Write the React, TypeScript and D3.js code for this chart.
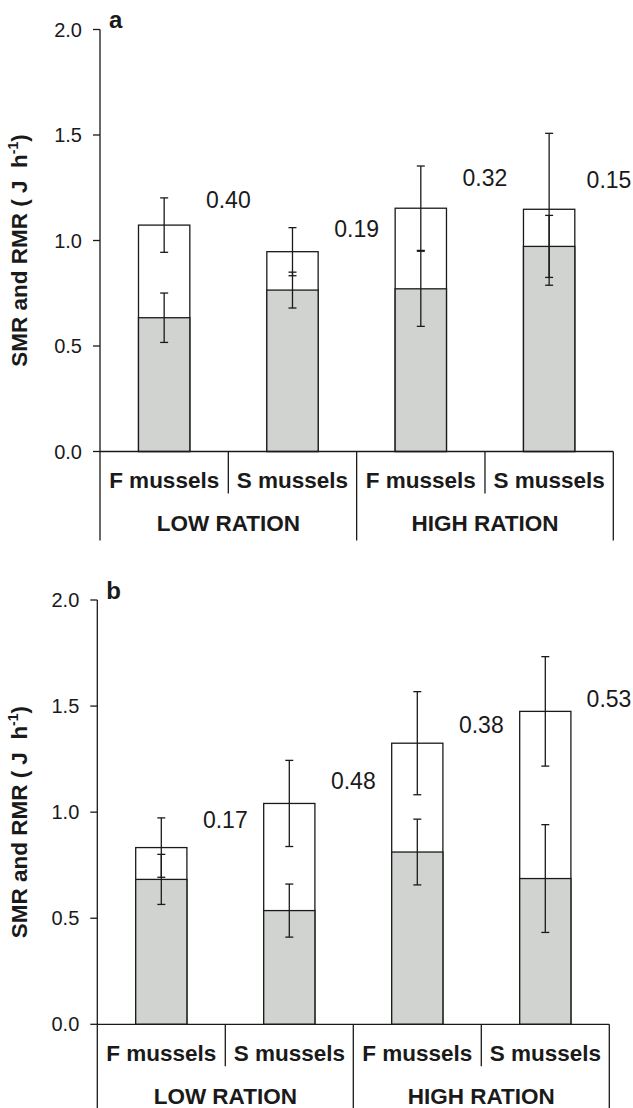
import React from 'react';
import * as d3 from 'd3';

// ---------- data ----------
const groups = ['LOW RATION', 'HIGH RATION'];
const mussels = ['F mussels', 'S mussels'];
const categories = groups.flatMap((g) => mussels.map((m) => `${g}|${m}`));
const yTicks = [0, 0.5, 1.0, 1.5, 2.0];

// panel a
const rmrA = [1.073, 0.947, 1.153, 1.148];
const rmrErrA = [0.129, 0.114, 0.2, 0.36];
const smrA = [0.634, 0.765, 0.771, 0.972];
const smrErrA = [0.117, 0.085, 0.178, 0.147];
const diffLabelsA = ['0.40', '0.19', '0.32', '0.15'];
const diffLabelYA = [1.154, 1.017, 1.258, 1.249];

// panel b
const rmrB = [0.833, 1.041, 1.325, 1.475];
const rmrErrB = [0.14, 0.203, 0.243, 0.258];
const smrB = [0.683, 0.536, 0.812, 0.687];
const smrErrB = [0.118, 0.125, 0.155, 0.254];
const diffLabelsB = ['0.17', '0.48', '0.38', '0.53'];
const diffLabelYB = [0.925, 1.108, 1.372, 1.495];

const FONT = "'Liberation Sans', Arial, Helvetica, sans-serif";
const INK = '#1a1a1a';
const GREY = '#d1d3d1';
const W = 633;

type PanelProps = {
  letter: string;
  rmr: number[];
  rmrErr: number[];
  smr: number[];
  smrErr: number[];
  labels: string[];
  labelY: number[];
  left: number;
  right: number;
  bottom: number;
  top: number;
};

function Panel(p: PanelProps) {
  const x = d3.scaleBand<string>().domain(categories).range([p.left, p.right]).padding(0);
  const y = d3.scaleLinear().domain([0, 2]).range([p.bottom, p.top]);
  const bw = x.bandwidth();
  const barW = bw * 0.4;
  const capW = 8;
  const sw = 1.3;
  const groupW = bw * mussels.length;

  const errBar = (cx: number, m: number, e: number, key: string) => (
    <g key={key} stroke={INK} strokeWidth={sw}>
      <line x1={cx} x2={cx} y1={y(m + e)} y2={y(m - e)} />
      <line x1={cx - capW / 2} x2={cx + capW / 2} y1={y(m + e)} y2={y(m + e)} />
      <line x1={cx - capW / 2} x2={cx + capW / 2} y1={y(m - e)} y2={y(m - e)} />
    </g>
  );

  const titleCy = (p.bottom + p.top) / 2 + 10;

  return (
    <g>
      {/* bars */}
      {categories.map((c, i) => {
        const cx = (x(c) as number) + bw / 2;
        return (
          <g key={c}>
            <rect x={cx - barW / 2} y={y(p.rmr[i])} width={barW} height={y(0) - y(p.rmr[i])}
              fill="#ffffff" stroke={INK} strokeWidth={sw} />
            <rect x={cx - barW / 2} y={y(p.smr[i])} width={barW} height={y(0) - y(p.smr[i])}
              fill={GREY} stroke={INK} strokeWidth={sw} />
            {errBar(cx, p.rmr[i], p.rmrErr[i], 'r')}
            {errBar(cx, p.smr[i], p.smrErr[i], 's')}
          </g>
        );
      })}

      {/* difference labels */}
      {categories.map((c, i) => (
        <text key={'l' + c} x={Math.min((x(c) as number) + bw, W - 24)} y={y(p.labelY[i])} textAnchor="middle"
          fontFamily={FONT} fontSize={23} fill={INK}>
          {p.labels[i]}
        </text>
      ))}

      {/* y axis */}
      <line x1={p.left} x2={p.left} y1={y(2)} y2={p.bottom + 89} stroke={INK} strokeWidth={sw} />
      {yTicks.map((t) => (
        <g key={t}>
          <line x1={p.left - 7} x2={p.left} y1={y(t)} y2={y(t)} stroke={INK} strokeWidth={sw} />
          <text x={p.left - 18} y={y(t) + 7} textAnchor="end" fontFamily={FONT} fontSize={20} fill={INK}>
            {d3.format('.1f')(t)}
          </text>
        </g>
      ))}

      {/* x axis */}
      <line x1={p.left} x2={p.right} y1={p.bottom} y2={p.bottom} stroke={INK} strokeWidth={sw} />
      {categories.map((c, i) => {
        const xe = (x(c) as number) + bw;
        const isGroupEnd = (i + 1) % mussels.length === 0;
        return (
          <line key={'s' + c} x1={xe} x2={xe} y1={p.bottom} y2={p.bottom + (isGroupEnd ? 89 : 42)}
            stroke={INK} strokeWidth={sw} />
        );
      })}
      {categories.map((c, i) => (
        <text key={'c' + c} x={(x(c) as number) + bw / 2} y={p.bottom + 36.5} textAnchor="middle"
          fontFamily={FONT} fontWeight="bold" fontSize={22.5} fill={INK}>
          {mussels[i % mussels.length]}
        </text>
      ))}
      {groups.map((g, gi) => (
        <text key={g} x={p.left + groupW * gi + groupW / 2} y={p.bottom + 79.5} textAnchor="middle"
          fontFamily={FONT} fontWeight="bold" fontSize={22.5} fill={INK}>
          {g}
        </text>
      ))}

      {/* panel letter */}
      <text x={p.left + 9} y={y(2) - 1.5} fontFamily={FONT} fontWeight="bold" fontSize={24} fill={INK}>
        {p.letter}
      </text>

      {/* y title */}
      <text transform={`translate(27,${titleCy}) rotate(-90)`} textAnchor="middle"
        fontFamily={FONT} fontWeight="bold" fontSize={22.5} fill={INK}>
        <tspan>{'SMR and RMR ( J\u00a0\u00a0h'}</tspan>
        <tspan fontSize={14} dy={-9}>-1</tspan>
        <tspan dy={9}>)</tspan>
      </text>
    </g>
  );
}

export default function App() {
  return (
    <svg width={633} height={1108} style={{ position: 'absolute', left: 0, top: 0, background: '#fff' }}>
      <rect x={0} y={0} width={633} height={1108} fill="#ffffff" />
      <Panel letter="a" rmr={rmrA} rmrErr={rmrErrA} smr={smrA} smrErr={smrErrA}
        labels={diffLabelsA} labelY={diffLabelYA} left={100} right={613.3} bottom={451.5} top={29.5} />
      <Panel letter="b" rmr={rmrB} rmrErr={rmrErrB} smr={smrB} smrErr={smrErrB}
        labels={diffLabelsB} labelY={diffLabelYB} left={97.3} right={609.3} bottom={1024.3} top={600} />
    </svg>
  );
}
